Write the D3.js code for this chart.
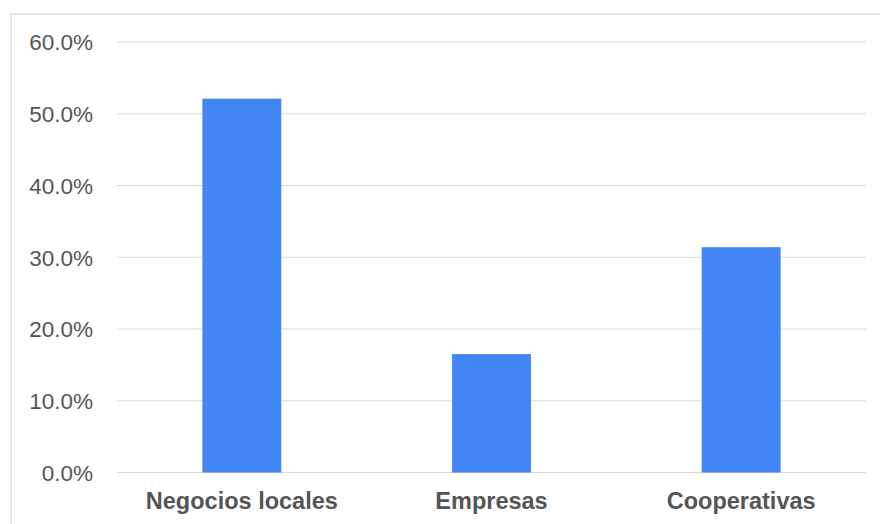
<!DOCTYPE html>
<html><head><meta charset="utf-8">
<script src="https://cdn.jsdelivr.net/npm/d3@7"></script>
<style>html,body{margin:0;padding:0;background:#fff;}svg{display:block;}</style>
</head><body>
<svg id="chart" width="880" height="524"></svg>
<script>
const categories = ["Negocios locales", "Empresas", "Cooperativas"];
const values = [0.521, 0.165, 0.314];
const yTicks = [0, 0.1, 0.2, 0.3, 0.4, 0.5, 0.6];

const svg = d3.select("#chart");
const W = 880, H = 524;
const m = {left: 117, right: 14, top: 42, bottom: 51.5};

// frame
svg.append("path")
  .attr("d", `M11,${H} L11,14 L${W},14`)
  .attr("fill", "none").attr("stroke", "#dcdcdc").attr("stroke-width", 1.5);

const x = d3.scaleBand().domain(categories)
  .range([m.left, W - m.right]).paddingInner(0.684).paddingOuter(0.342);
const y = d3.scaleLinear().domain([0, 0.6]).range([H - m.bottom, m.top]);

// gridlines
svg.append("g").selectAll("line").data(yTicks).join("line")
  .attr("x1", m.left).attr("x2", W - m.right)
  .attr("y1", d => y(d)).attr("y2", d => y(d))
  .attr("stroke", "#d9d9d9").attr("stroke-width", 1.2);

// y axis labels
const yAxis = d3.axisLeft(y).tickValues(yTicks).tickFormat(d3.format(".1%")).tickSize(0).tickPadding(0);
const gy = svg.append("g").attr("transform", "translate(93,0)").call(yAxis);
gy.select(".domain").remove();
gy.selectAll("text").attr("font-family", "Liberation Sans, Arial, sans-serif")
  .attr("font-size", 22.5).attr("fill", "#555").attr("dy", "0.35em");

// bars
svg.append("g").selectAll("rect").data(values).join("rect")
  .attr("x", (d, i) => x(categories[i]))
  .attr("width", x.bandwidth())
  .attr("y", d => y(d))
  .attr("height", d => y(0) - y(d))
  .attr("fill", "#4285f4");

// x axis labels
const xAxis = d3.axisBottom(x).tickSize(0).tickPadding(0);
const gx = svg.append("g").attr("transform", `translate(0,${H - m.bottom})`).call(xAxis);
gx.select(".domain").remove();
gx.selectAll("text").attr("font-family", "Liberation Sans, Arial, sans-serif")
  .attr("font-size", 23.5).attr("font-weight", "bold").attr("fill", "#555")
  .attr("dy", "0").attr("y", 36.5);
</script>
</body></html>
